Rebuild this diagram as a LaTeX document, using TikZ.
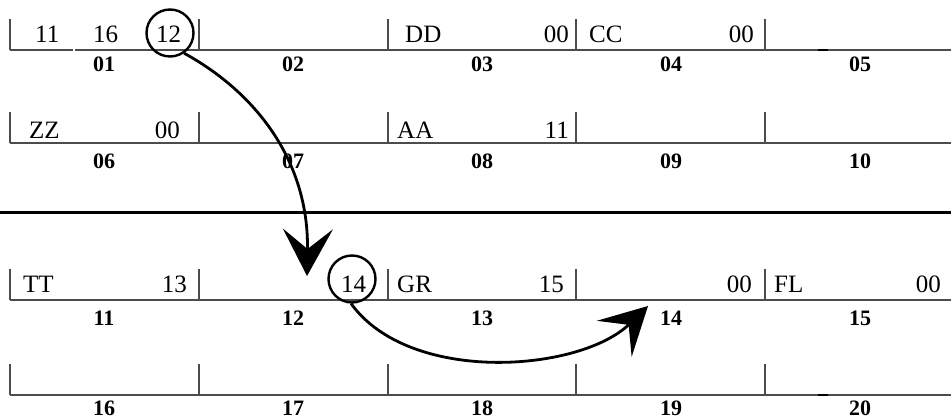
\documentclass[tikz,border=0pt]{standalone}
\usepackage{fontspec}
\setmainfont{Liberation Serif}
\usetikzlibrary{arrows.meta}
\begin{document}
\begin{tikzpicture}[x=1pt,y=-1pt,
  cell/.style={draw=black!70,line width=1.2pt},
  txt/.style={inner sep=0pt,anchor=base west,font=\fontsize{25}{25}\selectfont},
  txtr/.style={inner sep=0pt,anchor=base east,font=\fontsize{25}{25}\selectfont},
  lab/.style={inner sep=0pt,anchor=base,font=\fontsize{22}{22}\selectfont\bfseries},
  ring/.style={draw,circle,line width=2.4pt,minimum size=47pt,inner sep=0pt},
  jump/.style={line width=2.8pt,-{Stealth[length=47pt,width=50pt,inset=20pt]}}]
\useasboundingbox (0,0) rectangle (951,419);
% row lines and ticks
\foreach \y in {50,143,300,395}{
  \foreach \x in {10,199,388,576,765}{
    \draw[cell] (\x,\y-31) -- (\x,\y);
  }
}
\draw[cell] (10,50) -- (73,50);
\draw[cell] (75,50) -- (951,50);
\draw[cell] (10,143) -- (951,143);
\draw[cell] (10,300) -- (951,300);
\draw[cell] (10,395) -- (951,395);
\draw[line width=2pt] (818,50) -- (828,50);
\draw[line width=2pt] (818,395) -- (828,395);
% separator
\draw[line width=3.5pt] (0,212.5) -- (951,212.5);
% row 1 texts
\node[txt] (r1a) at (35,43) {11};
\node[txt] (r1b) at (93,43) {16};
\node[txt] (r1c) at (156,43) {12};
\node[ring] (c12) at (170,33) {};
\node[txt] (r1d) at (405,43) {DD};
\node[txtr] (r1e) at (569,43) {00};
\node[txt] (r1f) at (589,43) {CC};
\node[txtr] (r1g) at (754,43) {00};
% row 2 texts
\node[txt] (r2a) at (29,139) {ZZ};
\node[txtr] (r2b) at (180,139) {00};
\node[txt] (r2c) at (397,139) {AA};
\node[txtr] (r2d) at (569,139) {11};
% row 3 texts
\node[txt] (r3a) at (23,293) {TT};
\node[txtr] (r3b) at (187,293) {13};
\node[txt] (r3c) at (341,293) {14};
\node[ring] (c14) at (352,279) {};
\node[txt] (r3d) at (397,293) {GR};
\node[txtr] (r3e) at (564,293) {15};
\node[txtr] (r3f) at (752,293) {00};
\node[txt] (r3g) at (774,293) {FL};
\node[txtr] (r3h) at (941,293) {00};
% labels
\foreach \n/\x/\y in {01/104/72,02/293/72,03/482/72,04/671/72,05/860/72,
  06/104/169,07/293/169,08/482/169,09/671/169,10/860/169,
  11/104/326,12/293/326,13/482/326,14/671/326,15/860/326,
  16/104/416,17/293/416,18/482/416,19/671/416,20/860/416}{
  \node[lab] (l\n) at (\x,\y) {\n};
}
% arrows
\coordinate (e1) at (307,276);
\coordinate (e2) at (648,306);
\draw[jump] (c12.-55) .. controls (260,95) and (309,165) .. (e1);
\draw[jump] (c14.-92) .. controls (410,385) and (580,372) .. (e2);
\end{tikzpicture}
\end{document}
